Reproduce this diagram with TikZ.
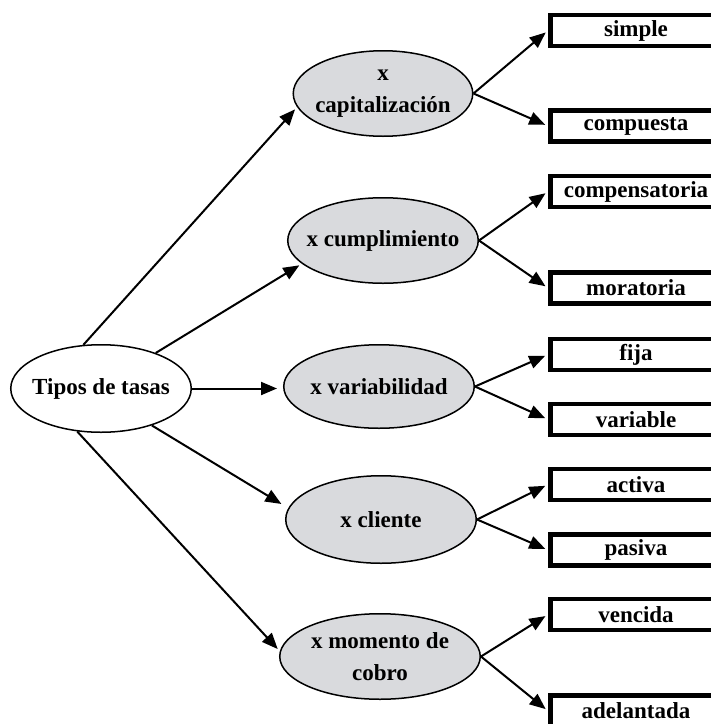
\documentclass[tikz,border=0pt]{standalone}
\usepackage{fontspec}
\setmainfont{Liberation Serif}
\usetikzlibrary{shapes.geometric,arrows.meta}
\definecolor{ovalgray}{RGB}{217,218,221}
\begin{document}
\begin{tikzpicture}[x=1pt,y=-1pt,
  every node/.style={font=\fontsize{23}{32}\selectfont\bfseries,align=center},
  oval/.style={ellipse,draw,line width=1.5pt,fill=ovalgray,inner xsep=-12pt,inner ysep=0pt},
  tipo/.style={draw,line width=4.5pt,minimum width=171.5pt,minimum height=31pt,inner sep=0pt},
  flecha/.style={line width=2pt,-{Triangle[length=16pt,width=13pt]},shorten >=3pt}]
\useasboundingbox (0,0) rectangle (711,724);
\clip (0,0) rectangle (711,724);
\node[oval,fill=white,minimum width=180.5pt,minimum height=87.5pt] (tipos) at (101,388.5) {Tipos de tasas};

\node[oval,minimum width=179.5pt,minimum height=85.5pt] (cap) at (383,93.5) {x\\capitalización};
\node[oval,minimum width=190.5pt,minimum height=85.5pt] (cump) at (383,240.5) {x cumplimiento};
\node[oval,minimum width=190.5pt,minimum height=83.5pt] (var) at (379,386.5) {x variabilidad};
\node[oval,minimum width=190.5pt,minimum height=87.5pt] (cli) at (381,519.5) {x cliente};
\node[oval,minimum width=200.5pt,minimum height=85.5pt] (mom) at (380,656.5) {x momento de\\cobro};

\node[tipo] (simple) at (636,30.5) {simple};
\node[tipo] (compuesta) at (636,126) {compuesta};
\node[tipo] (compens) at (636,191.5) {compensatoria};
\node[tipo] (morat) at (636,288) {moratoria};
\node[tipo] (fija) at (636,354.5) {fija};
\node[tipo] (variable) at (636,419.5) {variable};
\node[tipo] (activa) at (636,484.5) {activa};
\node[tipo] (pasiva) at (636,550) {pasiva};
\node[tipo] (vencida) at (636,614.5) {vencida};
\node[tipo] (adelant) at (636,711) {adelantada};

\draw[flecha] (tipos.112) -- (cap.189);
\draw[flecha] (tipos.33) -- (cump.196);
\draw[flecha,shorten >=6pt] (tipos.east) -- (tipos.east -| var.west);
\draw[flecha,shorten >=8pt] (tipos.-36) -- (cli.173);
\draw[flecha] (tipos.-119) -- (mom.177);

\draw[flecha] (cap.east) -- (simple.west);
\draw[flecha] (cap.east) -- (compuesta.west);
\draw[flecha] (cump.east) -- (compens.west);
\draw[flecha] (cump.east) -- (morat.west);
\draw[flecha] (var.east) -- (fija.west);
\draw[flecha] (var.east) -- (variable.west);
\draw[flecha] (cli.east) -- (activa.west);
\draw[flecha] (cli.east) -- (pasiva.west);
\draw[flecha] (mom.east) -- (vencida.west);
\draw[flecha] (mom.east) -- (adelant.west);
\end{tikzpicture}
\end{document}
